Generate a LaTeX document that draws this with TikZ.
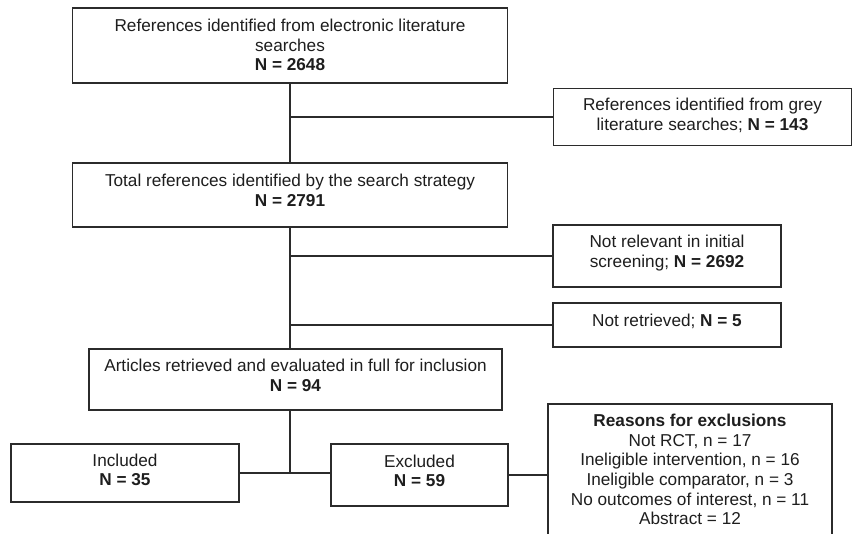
\documentclass[tikz,border=0pt]{standalone}
\usepackage{fontspec}
\setmainfont{Liberation Sans}
\begin{document}
\begin{tikzpicture}[x=1pt,y=-1pt,
  box/.style={draw=linec, line width=1.7pt, fill=white, inner sep=0pt},
  tx/.style={align=center, inner sep=0pt, font=\fontsize{17.2}{19.6}\selectfont, text=textc},
  conn/.style={draw=linec, line width=1.7pt}]
\definecolor{linec}{HTML}{2B2B2B}
\definecolor{textc}{HTML}{1E1E1E}
\useasboundingbox (0,0) rectangle (853,533);
% boxes (positions: centre = mid of corners)
\node[box, minimum width=435, minimum height=75] (elec) at (290,45.5) {};
\node[tx] (elect) at ([yshift=0.5pt]elec.center)
  {References identified from electronic literature\\searches\\\textbf{N = 2648}};
\node[box, minimum width=298, minimum height=57] (grey) at (702.5,117) {};
\node[tx] (greyt) at ([yshift=1.5pt]grey.center)
  {References identified from grey\\literature searches; \textbf{N = 143}};
\node[box, minimum width=435, minimum height=64] (total) at (290,195) {};
\node[tx] (totalt) at ([yshift=4.5pt]total.center)
  {Total references identified by the search strategy\\\textbf{N = 2791}};
\node[box, minimum width=228, minimum height=62] (notrel) at (667,256) {};
\node[tx] (notrelt) at ([yshift=3pt]notrel.center)
  {Not relevant in initial\\screening; \textbf{N = 2692}};
\node[box, minimum width=228, minimum height=44] (notret) at (667,325) {};
\node[tx] (notrett) at ([yshift=4pt]notret.center)
  {Not retrieved; \textbf{N = 5}};
\node[box, minimum width=413, minimum height=61] (full) at (295.5,379.5) {};
\node[tx] (fullt) at ([yshift=4pt]full.center)
  {Articles retrieved and evaluated in full for inclusion\\\textbf{N = 94}};
\node[box, minimum width=228, minimum height=58] (incl) at (125,473) {};
\node[tx] (inclt) at ([yshift=3pt]incl.center)
  {Included\\\textbf{N = 35}};
\node[box, minimum width=177, minimum height=62] (excl) at (419.5,475) {};
\node[tx] (exclt) at ([yshift=4pt]excl.center)
  {Excluded\\\textbf{N = 59}};
\node[box, minimum width=284, minimum height=150, anchor=north] (reasons) at (690,403) {};
\node[tx, anchor=north] (reasonstxt) at ([yshift=-11pt]reasons.north)
  {\textbf{Reasons for exclusions}\\Not RCT, n = 17\\Ineligible intervention, n = 16\\
   Ineligible comparator, n = 3\\No outcomes of interest, n = 11\\Abstract = 12};
% connectors
\draw[conn] (elec.south) -- (total.north);
\draw[conn] (elec.south |- grey.west) -- (grey.west);
\draw[conn] (total.south) -- (total.south |- full.north);
\draw[conn] (total.south |- notrel.west) -- (notrel.west);
\draw[conn] (total.south |- notret.west) -- (notret.west);
\draw[conn] (total.south |- full.south) -- (total.south |- incl.east);
\draw[conn] (incl.east) -- (incl.east -| excl.west);
\draw[conn] (excl.east) -- (excl.east -| reasons.west);
\end{tikzpicture}
\end{document}
